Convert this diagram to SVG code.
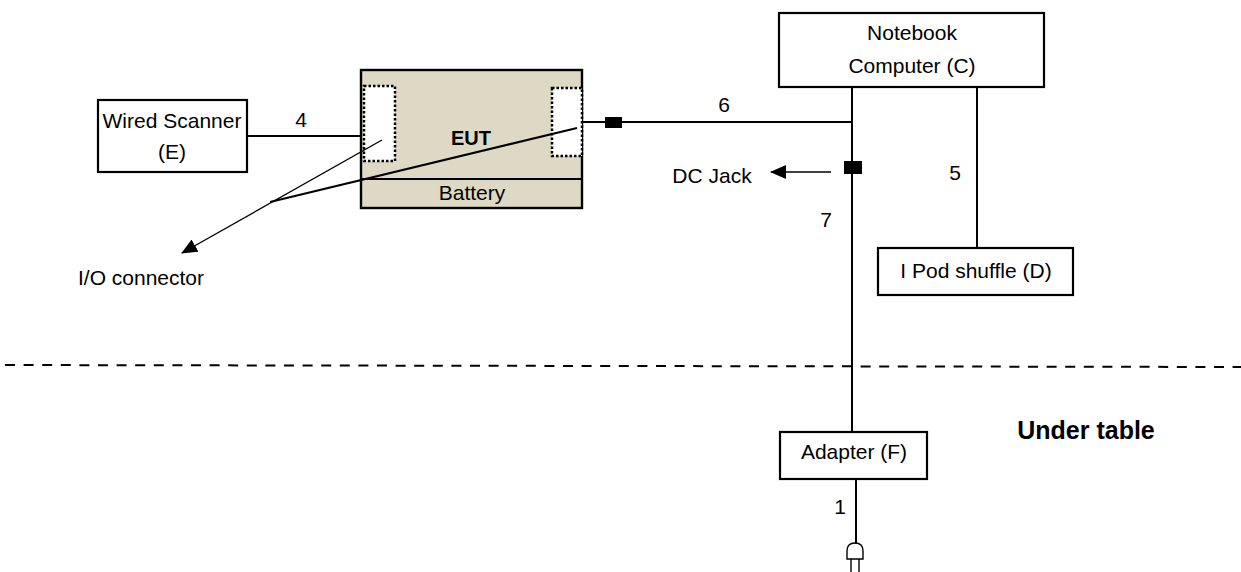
<svg xmlns="http://www.w3.org/2000/svg" width="1241" height="572" viewBox="0 0 1241 572">
<style>
text{font-family:"Liberation Sans",Arial,sans-serif;font-size:21px;fill:#000;text-anchor:middle}
.b{font-weight:bold}
.box{fill:#fff;stroke:#000;stroke-width:2.2}
.ln{stroke:#000;stroke-width:2;fill:none}
.thin{stroke:#000;stroke-width:1.4;fill:none}
.dot{fill:#fff;stroke:#000;stroke-width:2.5;stroke-dasharray:2.5 2}
</style>
<defs>
<marker id="ah" markerWidth="16" markerHeight="14" refX="15" refY="7" orient="auto" markerUnits="userSpaceOnUse">
<path d="M0,0 L16,7 L0,14 Z" fill="#000"/>
</marker>
</defs>
<rect width="1241" height="572" fill="#fff"/>

<g id="eut">
<rect x="361" y="70" width="221" height="138" fill="#DDD9C4" stroke="#000" stroke-width="2.4"/>
<line x1="361" y1="179" x2="582" y2="179" stroke="#000" stroke-width="2"/>
<rect class="dot" x="364" y="86" width="31" height="75"/>
<rect class="dot" x="552" y="88" width="30" height="68"/>
<text class="b" x="471" y="145" style="font-size:20px">EUT</text>
<text x="472" y="200">Battery</text>
</g>

<g id="scanner">
<rect class="box" x="98" y="100" width="149" height="72"/>
<text x="172" y="128">Wired Scanner</text>
<text x="172" y="159">(E)</text>
</g>

<g id="notebook">
<rect class="box" x="779" y="13" width="265" height="74"/>
<text x="912" y="40">Notebook</text>
<text x="912" y="73">Computer (C)</text>
</g>

<g id="ipod">
<rect class="box" x="878" y="248" width="195" height="47"/>
<text x="976" y="278">I Pod shuffle (D)</text>
</g>

<g id="adapter">
<rect class="box" x="780" y="432" width="147" height="47"/>
<text x="854" y="459">Adapter (F)</text>
</g>

<g id="plug">
<path d="M847,559 L847,551 Q847,543 855,543 Q863,543 863,551 L863,559 Z" fill="#fff" stroke="#000" stroke-width="1.4"/>
<line x1="851" y1="559" x2="851" y2="572" stroke="#000" stroke-width="1.4"/>
<line x1="859" y1="559" x2="859" y2="572" stroke="#000" stroke-width="1.4"/>
</g>

<g id="connectors">
<line class="ln" x1="247" y1="136" x2="361" y2="136"/>
<line class="ln" x1="583" y1="122" x2="852" y2="122"/>
<line class="ln" x1="852" y1="87" x2="852" y2="432"/>
<line class="ln" x1="977" y1="87" x2="977" y2="248"/>
<line class="ln" x1="856" y1="479" x2="856" y2="544"/>
<line class="thin" x1="831" y1="172" x2="771" y2="172" marker-end="url(#ah)"/>
<line class="thin" x1="382" y1="140" x2="182" y2="253" marker-end="url(#ah)"/>
<line class="ln" x1="577" y1="128" x2="270" y2="202"/>
<rect x="605" y="117" width="17" height="11" fill="#000"/>
<rect x="844" y="161" width="18" height="13" fill="#000"/>
<line x1="0" y1="365" x2="1241" y2="367" stroke="#000" stroke-width="2" stroke-dasharray="10 8.6" stroke-dashoffset="-5"/>
</g>

<g id="labels">
<text x="301" y="127">4</text>
<text x="724" y="112">6</text>
<text x="955" y="180">5</text>
<text x="826" y="227">7</text>
<text x="840" y="514">1</text>
<text x="712" y="183">DC Jack</text>
<text x="141" y="285">I/O connector</text>
<text class="b" x="1086" y="439" style="font-size:25px">Under table</text>
</g>
</svg>
